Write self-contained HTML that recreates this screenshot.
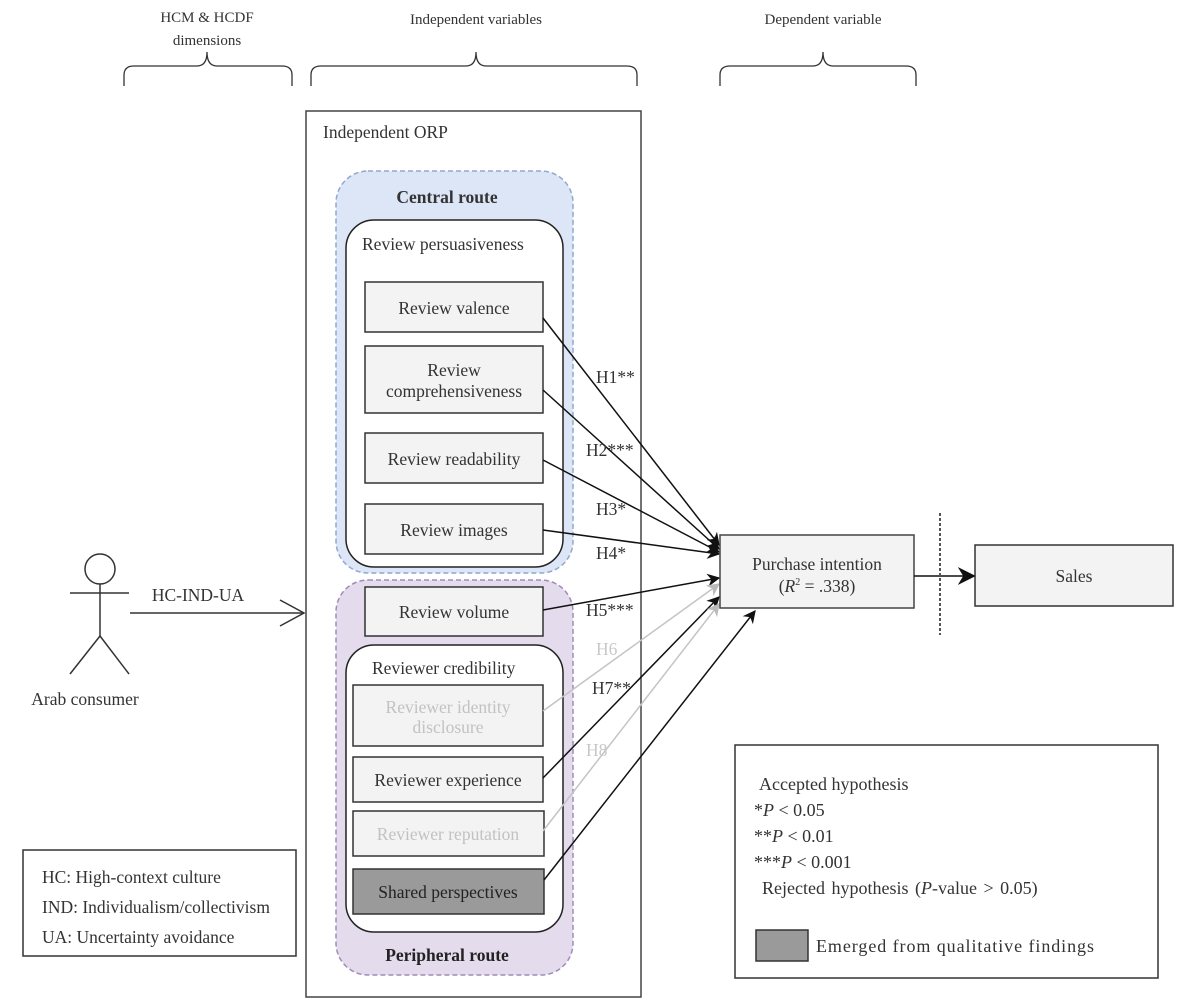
<!DOCTYPE html>
<html><head><meta charset="utf-8"><style>
html,body{margin:0;padding:0;background:#fff;}
svg{display:block;}
text{font-family:"Liberation Serif",serif;font-size:17.5px;fill:#333;}
text.h{font-size:15px;}
text.lg{font-size:18px;}
</style></head><body>
<svg width="1200" height="1005" viewBox="0 0 1200 1005" xmlns="http://www.w3.org/2000/svg">
<defs>
<marker id="a" viewBox="0 0 10 10" refX="9" refY="5" markerWidth="13" markerHeight="13" markerUnits="userSpaceOnUse" orient="auto"><path d="M0,0 L10,5 L0,10 L3,5 z" fill="#111"/></marker>
<marker id="g" viewBox="0 0 10 10" refX="9" refY="5" markerWidth="13" markerHeight="13" markerUnits="userSpaceOnUse" orient="auto"><path d="M0,0 L10,5 L0,10 L3,5 z" fill="#bbb"/></marker>
<marker id="s" viewBox="0 0 10 10" refX="9" refY="5" markerWidth="18" markerHeight="18" markerUnits="userSpaceOnUse" orient="auto"><path d="M0,0 L10,5 L0,10 L3,5 z" fill="#111"/></marker>
</defs>
<text class="h" x="207" y="22" text-anchor="middle">HCM &amp; HCDF</text>
<text class="h" x="207" y="45" text-anchor="middle">dimensions</text>
<text class="h" x="476" y="24" text-anchor="middle">Independent variables</text>
<text class="h" x="823" y="24" text-anchor="middle">Dependent variable</text>
<g fill="none" stroke="#333" stroke-width="1.3">
<path d="M124,86 V75 Q124,66 134,66 H197 Q207,66 207,52 Q207,66 217,66 H282 Q292,66 292,75 V86"/>
<path d="M311,86 V75 Q311,66 321,66 H466 Q476,66 476,52 Q476,66 486,66 H627 Q637,66 637,75 V86"/>
<path d="M720,86 V75 Q720,66 730,66 H813 Q823,66 823,52 Q823,66 833,66 H906 Q916,66 916,75 V86"/>
</g>
<rect x="306" y="111" width="335" height="886" fill="#fff" stroke="#444" stroke-width="1.5"/>
<text x="323" y="138">Independent ORP</text>
<rect x="336" y="171" width="237" height="402" rx="32" fill="#dce6f6" stroke="#8fa9d0" stroke-width="1.5" stroke-dasharray="5,3"/>
<text x="447" y="203" text-anchor="middle" style="font-weight:bold">Central route</text>
<rect x="346" y="220" width="217" height="347" rx="28" fill="#fff" stroke="#222" stroke-width="1.5"/>
<text x="362" y="250">Review persuasiveness</text>
<g stroke="#333" stroke-width="1.5" fill="#f3f3f3">
<rect x="365" y="282" width="178" height="50"/>
<rect x="365" y="346" width="178" height="67"/>
<rect x="365" y="433" width="178" height="50"/>
<rect x="365" y="504" width="178" height="50"/>
</g>
<text x="454" y="314" text-anchor="middle">Review valence</text>
<text x="454" y="376" text-anchor="middle">Review</text>
<text x="454" y="397" text-anchor="middle">comprehensiveness</text>
<text x="454" y="465" text-anchor="middle">Review readability</text>
<text x="454" y="536" text-anchor="middle">Review images</text>
<rect x="336" y="580" width="237" height="395" rx="32" fill="#e4dbed" stroke="#a08bb8" stroke-width="1.5" stroke-dasharray="5,3"/>
<g stroke="#333" stroke-width="1.5" fill="#f3f3f3"><rect x="365" y="587" width="178" height="49"/></g>
<text x="454" y="618" text-anchor="middle">Review volume</text>
<rect x="346" y="645" width="217" height="287" rx="28" fill="#fff" stroke="#222" stroke-width="1.5"/>
<text x="372" y="674">Reviewer credibility</text>
<g stroke="#333" stroke-width="1.5" fill="#f3f3f3">
<rect x="353" y="685" width="190" height="61"/>
<rect x="353" y="757" width="190" height="45"/>
<rect x="353" y="811" width="191" height="45"/>
<rect x="353" y="869" width="191" height="45" fill="#9a9a9a"/>
</g>
<text x="448" y="713" text-anchor="middle" style="fill:#c2c2c2">Reviewer identity</text>
<text x="448" y="733" text-anchor="middle" style="fill:#c2c2c2">disclosure</text>
<text x="448" y="786" text-anchor="middle">Reviewer experience</text>
<text x="448" y="840" text-anchor="middle" style="fill:#c2c2c2">Reviewer reputation</text>
<text x="448" y="898" text-anchor="middle" style="fill:#222">Shared perspectives</text>
<text x="447" y="961" text-anchor="middle" style="font-weight:bold;fill:#222">Peripheral route</text>
<g stroke="#111" stroke-width="1.5" fill="none">
<line x1="543" y1="318" x2="719" y2="545" marker-end="url(#a)"/>
<line x1="543" y1="390" x2="719" y2="549" marker-end="url(#a)"/>
<line x1="543" y1="460" x2="719" y2="552" marker-end="url(#a)"/>
<line x1="543" y1="530" x2="719" y2="554" marker-end="url(#a)"/>
<line x1="543" y1="610" x2="719" y2="578" marker-end="url(#a)"/>
<line x1="543" y1="711" x2="719" y2="584" stroke="#c4c4c4" marker-end="url(#g)"/>
<line x1="543" y1="778" x2="719" y2="597" marker-end="url(#a)"/>
<line x1="543" y1="831" x2="719" y2="604" stroke="#c4c4c4" marker-end="url(#g)"/>
<line x1="544" y1="880" x2="755" y2="611" marker-end="url(#a)"/>
</g>
<text x="596" y="383">H1**</text>
<text x="586" y="456">H2***</text>
<text x="596" y="515">H3*</text>
<text x="596" y="559">H4*</text>
<text x="586" y="616">H5***</text>
<text x="596" y="655" style="fill:#c8c8c8">H6</text>
<text x="592" y="694">H7**</text>
<text x="586" y="756" style="fill:#c8c8c8">H8</text>
<rect x="720" y="535" width="194" height="73" fill="#f3f3f3" stroke="#444" stroke-width="1.5"/>
<text x="817" y="570" text-anchor="middle">Purchase intention</text>
<text x="817" y="592" text-anchor="middle">(<tspan font-style="italic">R</tspan><tspan font-size="10" dy="-7">2</tspan><tspan dy="7"> = .338)</tspan></text>
<rect x="975" y="545" width="198" height="61" fill="#f3f3f3" stroke="#333" stroke-width="1.5"/>
<text x="1074" y="582" text-anchor="middle">Sales</text>
<line x1="914" y1="576" x2="974" y2="576" stroke="#111" stroke-width="1.5" marker-end="url(#s)"/>
<line x1="940" y1="513" x2="940" y2="635" stroke="#555" stroke-width="2" stroke-dasharray="3,2"/>
<g stroke="#333" stroke-width="1.5" fill="none">
<circle cx="100" cy="569" r="15"/>
<line x1="70" y1="593" x2="129" y2="593"/>
<line x1="100" y1="584" x2="100" y2="636"/>
<line x1="100" y1="636" x2="70" y2="674"/>
<line x1="100" y1="636" x2="129" y2="674"/>
<line x1="130" y1="613" x2="304" y2="613"/>
<polyline points="280,600 304,613 280,626"/>
</g>
<text x="198" y="601" text-anchor="middle">HC-IND-UA</text>
<text x="85" y="705" text-anchor="middle">Arab consumer</text>
<rect x="23" y="850" width="273" height="106" fill="#fff" stroke="#333" stroke-width="1.5"/>
<text x="42" y="883">HC: High-context culture</text>
<text x="42" y="913">IND: Individualism/collectivism</text>
<text x="42" y="943">UA: Uncertainty avoidance</text>
<rect x="735" y="745" width="423" height="233" fill="#fff" stroke="#333" stroke-width="1.5"/>
<text class="lg" x="759" y="790">Accepted hypothesis</text>
<text class="lg" x="754" y="816">*<tspan font-style="italic">P</tspan> &lt; 0.05</text>
<text class="lg" x="754" y="842">**<tspan font-style="italic">P</tspan> &lt; 0.01</text>
<text class="lg" x="754" y="868">***<tspan font-style="italic">P</tspan> &lt; 0.001</text>
<text class="lg" x="762" y="894" style="word-spacing:2px">Rejected hypothesis (<tspan font-style="italic">P</tspan>-value &gt; 0.05)</text>
<rect x="756" y="930" width="52" height="31" fill="#9a9a9a" stroke="#333" stroke-width="1.5"/>
<text class="lg" x="816" y="952" textLength="278" lengthAdjust="spacing">Emerged from qualitative findings</text>
</svg>
</body></html>
